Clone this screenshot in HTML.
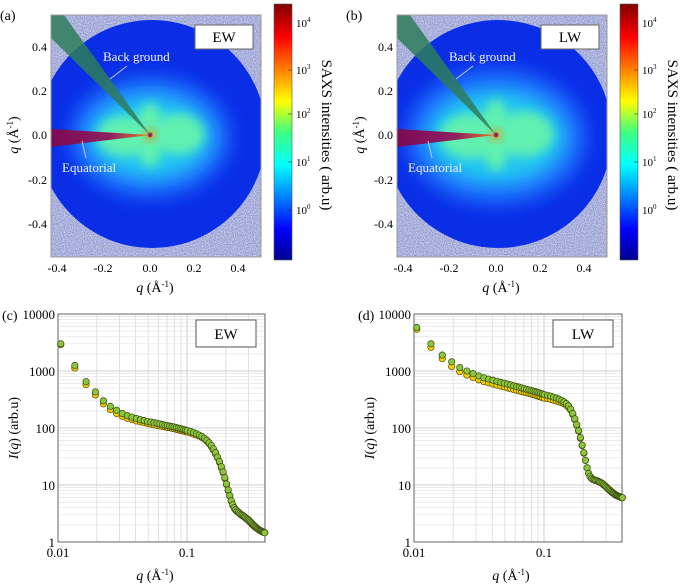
<!DOCTYPE html>
<html><head><meta charset="utf-8">
<style>
body{margin:0;background:#fff;}
svg{display:block;font-family:"Liberation Serif",serif;}
</style></head>
<body>
<svg id="fig" width="685" height="587" viewBox="0 0 685 587" xmlns="http://www.w3.org/2000/svg">
<defs>
<linearGradient id="jet" x1="0" y1="1" x2="0" y2="0">
<stop offset="0" stop-color="#00008f"/><stop offset="0.12" stop-color="#0000ff"/>
<stop offset="0.37" stop-color="#00ffff"/><stop offset="0.5" stop-color="#40ff80"/>
<stop offset="0.62" stop-color="#ffff00"/><stop offset="0.87" stop-color="#ff0000"/>
<stop offset="1" stop-color="#800000"/></linearGradient>
<linearGradient id="eqg" x1="0" y1="0" x2="1" y2="0">
<stop offset="0" stop-color="#7a0a55"/><stop offset="0.6" stop-color="#8e2060"/><stop offset="1" stop-color="#e08020"/></linearGradient>
<filter id="blur8" x="-50%" y="-50%" width="200%" height="200%"><feGaussianBlur stdDeviation="9"/></filter>
<filter id="blur4" x="-50%" y="-50%" width="200%" height="200%"><feGaussianBlur stdDeviation="5"/></filter>
<filter id="noise"><feTurbulence type="fractalNoise" baseFrequency="0.9" numOctaves="1" seed="3"/><feColorMatrix type="matrix" values="0 0 0 0 1  0 0 0 0 1  0 0 0 0 1  0 0 0 1.4 -0.45"/></filter>
</defs>
<g id="heatmaps"></g>
<g id="charts"></g>
</svg>
<script>
// ---------- chart data ----------
const qValues = [0.0105,0.0135,0.0165,0.0195,0.0225,0.0255,0.0285,0.0315,0.0345,0.0375,0.0405,0.0435,0.0465,0.0495,0.0525,0.0555,0.0585,0.0615,0.0645,0.0675,0.0705,0.0735,0.0765,0.0795,0.0825,0.0855,0.0885,0.0915,0.0945,0.0975,0.1005,
0.1065,0.1125,0.1185,0.1245,0.1305,0.1365,0.1425,0.1485,0.1545,0.1605,0.1665,0.1725,0.1785,0.1845,0.1905,0.1965,0.2025,0.2085,0.2145,0.2205,0.2265,0.2325,0.2385,0.2445,0.2505,0.2565,0.2625,0.2685,0.2745,0.2805,0.2865,0.2925,0.2985,0.3045,0.3105,0.3165,0.3225,0.3285,0.3345,0.3405,0.3465,0.3525,0.3585,0.3645,0.3705,0.3765,0.3825,0.3885,0.3945,0.4005];
const ewGreen = [3000,1250,650,430,300,240,205,180,165,155,147,140,135,130,127,124,121,118,115,112,110,108,106,104,102,100,98,96,94,92,90,
87,83,79,75,71,66,61,55,49,43,37,31,26,21,17,13.5,10.5,8.2,6.5,5.3,4.5,4.0,3.7,3.5,3.35,3.2,3.05,2.95,2.85,2.75,2.65,2.55,2.45,2.35,2.25,2.15,2.05,1.97,1.9,1.83,1.77,1.71,1.66,1.62,1.58,1.55,1.52,1.5,1.47,1.45];
const ewYellow = [2900,1130,580,380,265,210,180,160,148,140,133,128,124,120,117,114,111,109,107,105,103,101,99,97,95,93,91,90,88,86,85,
82,78,75,72,68,64,59,53,47,41,35,30,25,20,16.5,13,10.2,8,6.4,5.2,4.4,3.9,3.6,3.45,3.3,3.15,3.0,2.9,2.8,2.7,2.6,2.5,2.4,2.3,2.2,2.1,2.0,1.93,1.86,1.8,1.75,1.7,1.66,1.62,1.58,1.55,1.52,1.5,1.48,1.46];
const lwGreen = [5800,3000,1900,1450,1150,1000,900,820,760,720,690,660,630,610,590,570,550,535,520,505,490,478,466,455,445,435,425,415,405,395,385,
375,362,348,335,320,305,288,268,245,215,180,145,115,90,68,50,37,27,20,16,14,13,12.5,12.2,12,11.8,11.5,11.2,11,10.6,10.2,9.8,9.4,9,8.6,8.3,8,7.7,7.4,7.2,7,6.8,6.6,6.5,6.4,6.3,6.2,6.1,6.0,6.0];
const lwYellow = [5400,2600,1650,1200,970,850,770,700,650,620,590,565,545,525,505,490,475,460,448,436,425,415,405,395,385,376,367,358,350,342,335,
328,318,308,298,288,278,266,250,230,205,172,140,112,88,66,49,36,27,20,16,14,13,12.5,12.2,12,11.8,11.5,11.2,11,10.6,10.2,9.8,9.4,9,8.6,8.3,8,7.7,7.4,7.2,7,6.8,6.6,6.5,6.4,6.3,6.2,6.1,6.0,6.0];
const yTickLabels = ["1","10","100","1000","10000"];
const xTickLabels = ["0.01","0.1"];
const cbarLabels = ["0","1","2","3","4"];
const mapTicks = ["-0.4","-0.2","0.0","0.2","0.4"];

const NS="http://www.w3.org/2000/svg";
function mk(tag, attrs, parent){const e=document.createElementNS(NS,tag);for(const k in attrs)e.setAttribute(k,attrs[k]);parent.appendChild(e);return e;}

// ---------- heatmaps ----------
const hm=document.getElementById('heatmaps');
function heatmap(ox, tag, letter, big){
  const g=mk('g',{},hm);
  
  
  const cid='clip'+tag;
  const cp=mk('clipPath',{id:cid},g); mk('rect',{x:ox+51,y:15,width:210,height:242},cp);
  const img=mk('g',{'clip-path':'url(#'+cid+')'},g);
  mk('rect',{x:ox+51,y:15,width:210,height:242,fill:'#8f98d0'},img);
  mk('rect',{x:ox+51,y:15,width:210,height:242,filter:'url(#noise)'},img);
  mk('circle',{cx:ox+152,cy:134,r:114,fill:'#0a2ee6'},img);
  const s=big?1.12:1;
  mk('ellipse',{cx:ox+150,cy:137,rx:80*s,ry:60*s,fill:'#1a70ff',filter:'url(#blur8)'},img);
  mk('ellipse',{cx:ox+150,cy:137,rx:62*s,ry:42*s,fill:'#20c8f0',filter:'url(#blur8)'},img);
  mk('ellipse',{cx:ox+125,cy:136,rx:28*s,ry:20*s,fill:'#60f0b0',filter:'url(#blur4)'},img);
  mk('ellipse',{cx:ox+178,cy:134,rx:26*s,ry:20*s,fill:'#60f0b0',filter:'url(#blur4)'},img);
  mk('ellipse',{cx:ox+150,cy:135,rx:14,ry:32*s,fill:'#60f0b0',filter:'url(#blur4)'},img);
  mk('circle',{cx:ox+150,cy:135,r:5,fill:'#ff8000',filter:'url(#blur4)'},img);
  mk('circle',{cx:ox+150,cy:135,r:2.5,fill:'#e02020'},img);
  mk('circle',{cx:ox+150,cy:135,r:1.2,fill:'#3030a0'},img);
  const bg=mk('polygon',{points:`${ox+150},${135} ${ox+64},15 ${ox+51},15 ${ox+51},38`,fill:'#2e7d5c','fill-opacity':'0.85'},img);
  
  
  const eq=mk('polygon',{points:`${ox+150},${135} ${ox+51},129 ${ox+51},147`,fill:'url(#eqg)'},img);
  
  
  mk('rect',{x:ox+51,y:15,width:210,height:242,fill:'none',stroke:'#999','stroke-width':1},g);
  const t1=mk('text',{x:ox+103,y:61,fill:'#f0f0ff','font-size':13},g); t1.textContent='Back ground';
   
  mk('line',{x1:ox+127,y1:66,x2:ox+110,y2:79,stroke:'#c0c8f0','stroke-width':1},g);
  const t2=mk('text',{x:ox+62,y:172,fill:'#f0f0ff','font-size':13},g); t2.textContent='Equatorial';
   
  mk('line',{x1:ox+82,y1:141,x2:ox+86,y2:158,stroke:'#c0c8f0','stroke-width':1},g);
  const lb=mk('rect',{x:ox+195,y:25,width:58,height:24,fill:'#fff',stroke:'#666'},g);
   
  const lt=mk('text',{x:ox+224,y:42,'text-anchor':'middle','font-size':15},g); lt.textContent=tag;
  const xpos=[57,103,150,194,238], ypos=[224,180,135,91,47];
  mapTicks.forEach((t,i)=>{
    const a=mk('text',{x:ox+xpos[i],y:272,'text-anchor':'middle','font-size':12},g); a.textContent=t;
    const b=mk('text',{x:ox+47,y:ypos[i]+4,'text-anchor':'end','font-size':12},g); b.textContent=t;
  });
  const xt=mk('text',{x:ox+155,y:292,'text-anchor':'middle','font-size':14},g);
  xt.innerHTML='<tspan font-style="italic">q</tspan> (Å<tspan font-size="9" dy="-5">-1</tspan><tspan dy="5">)</tspan>';
   
  const yt=mk('text',{x:0,y:0,'text-anchor':'middle','font-size':14,transform:`translate(${ox+18},135) rotate(-90)`},g);
  yt.innerHTML='<tspan font-style="italic">q</tspan> (Å<tspan font-size="9" dy="-5">-1</tspan><tspan dy="5">)</tspan>';
   
  const pl=mk('text',{x:ox+0,y:20,'font-size':14},g); pl.textContent=letter;
  const cb=mk('rect',{x:ox+274,y:4,width:18,height:256,fill:'url(#jet)',stroke:'#555','stroke-width':0.6},g);
   
  const cy=[210,162,114,70,23];
  cbarLabels.forEach((e,i)=>{
    const t=mk('text',{x:ox+296,y:cy[i]+4,'font-size':11},g);
    t.innerHTML='10<tspan font-size="7" dy="-5">'+e+'</tspan>';
    mk('line',{x1:ox+288,y1:cy[i],x2:ox+292,y2:cy[i],stroke:'#333','stroke-width':0.6},g);
  });
  const ct=mk('text',{x:0,y:0,'text-anchor':'middle','font-size':15,transform:`translate(${ox+322},135) rotate(90)`},g);
  ct.textContent='SAXS intensities ( arb.u)';
   
}
heatmap(0,'EW','(a)',false);
heatmap(346,'LW','(b)',true);

// ---------- log-log charts ----------
const ch=document.getElementById('charts');
function chart(x0,x1,xDec,tag,letter,green,yellow){
  const yTop=314,yBot=542,yDec=(yBot-yTop)/4;
  const X=q=>x0+(Math.log10(q)+2)*xDec;
  const Y=v=>yBot-Math.log10(v)*yDec;
  const g=mk('g',{},ch);
  
  
  const grid=mk('g',{stroke:'#d4d4d4','stroke-width':0.7},g);
  for(let d=-2;d<=-1;d++)for(let m=1;m<=9;m++){const q=m*Math.pow(10,d);if(q>0.41)continue;const x=X(q);
    mk('line',{x1:x,y1:yTop,x2:x,y2:yBot,stroke:m===1?'#b8b8b8':'#d4d4d4'},grid);}
  for(let d=0;d<4;d++)for(let m=1;m<=9;m++){const y=Y(m*Math.pow(10,d));
    mk('line',{x1:x0,y1:y,x2:x1,y2:y,stroke:m===1?'#c0c0c0':'#e4e4e4'},grid);}
  mk('rect',{x:x0,y:yTop,width:x1-x0,height:yBot-yTop,fill:'none',stroke:'#666','stroke-width':1},g);
  yTickLabels.forEach((t,i)=>{const y=Y(Math.pow(10,i));
    const e=mk('text',{x:x0-3,y:y+5,'text-anchor':'end','font-size':13},g); e.textContent=t;});
  xTickLabels.forEach((t,i)=>{const e=mk('text',{x:X(Math.pow(10,i-2)),y:557,'text-anchor':'middle','font-size':13},g); e.textContent=t;});
  const xt=mk('text',{x:x0+97,y:580,'text-anchor':'middle','font-size':14},g);
  xt.innerHTML='<tspan font-style="italic">q</tspan> (Å<tspan font-size="9" dy="-5">-1</tspan><tspan dy="5">)</tspan>';
   
  const yt=mk('text',{x:0,y:0,'text-anchor':'middle','font-size':14,transform:`translate(${x0-40},428) rotate(-90)`},g);
  yt.innerHTML='<tspan font-style="italic">I</tspan>(<tspan font-style="italic">q</tspan>) (arb.u)';
   
  const pl=mk('text',{x:x0-56,y:320,'font-size':14},g); pl.textContent=letter;
  const sy=mk('g',{},g);
   
  qValues.forEach((q,i)=>{const c=mk('circle',{cx:X(q),cy:Y(yellow[i]),r:3.2,fill:'#f2d000',stroke:'#5a4a00','stroke-width':0.7},sy);
     });
  const sg=mk('g',{},g);
   
  qValues.forEach((q,i)=>{const c=mk('circle',{cx:X(q),cy:Y(green[i]),r:3.2,fill:'#8cc63f',stroke:'#3a4a10','stroke-width':0.7},sg);
     });
  const lx=x1-69;
  const lb=mk('rect',{x:lx,y:320,width:60,height:27,fill:'#fff',stroke:'#555'},g);
   
  const lt=mk('text',{x:lx+30,y:339,'text-anchor':'middle','font-size':15},g); lt.textContent=tag;
}
chart(58,265,129,'EW','(c)',ewGreen,ewYellow);
chart(414,622,130,'LW','(d)',lwGreen,lwYellow);
</script>
</body></html>
